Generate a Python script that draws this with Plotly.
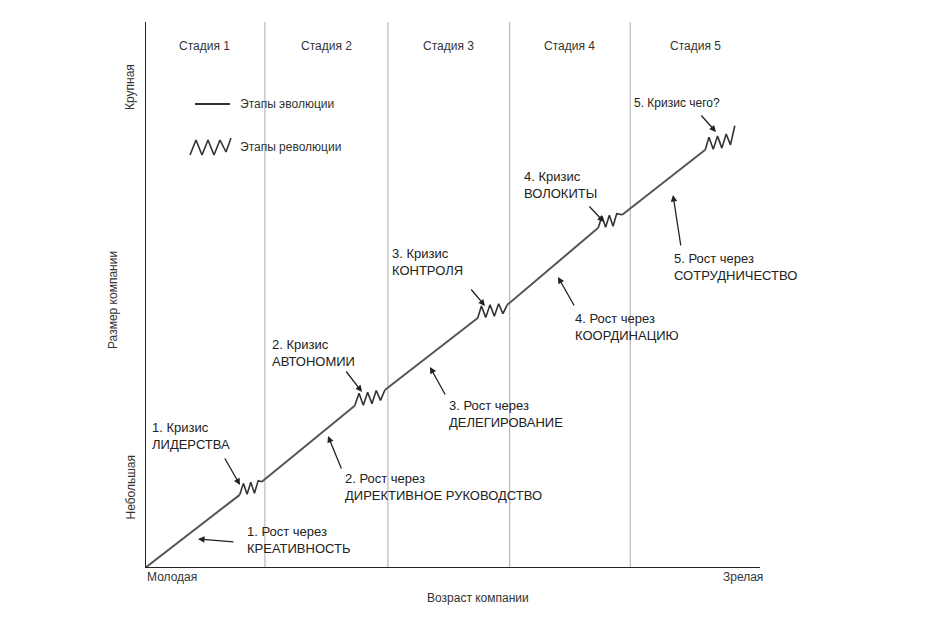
import plotly.graph_objects as go

# ---- data (axis units 0..100) ----
stages = ["Стадия 1", "Стадия 2", "Стадия 3", "Стадия 4", "Стадия 5"]
stage_bounds = [0, 19.5, 39.5, 59.3, 78.9, 100]
# evolution segments: start/end points
evo_x = [0, 15.4, 19.0, 34.1, 39.0, 54.1, 58.9, 73.7, 77.6, 91.1]
evo_y = [0, 13.4, 15.8, 29.7, 32.6, 45.8, 48.2, 62.3, 64.7, 76.6]
# revolution zigzags (hand-read vertices)
rev1_x = [15.4, 16.0, 16.6, 17.2, 17.8, 18.4, 19.0]
rev1_y = [13.4, 15.5, 13.5, 15.7, 13.7, 16.0, 15.8]
rev2_x = [34.1, 34.8, 35.5, 36.2, 36.9, 37.6, 38.3, 39.0]
rev2_y = [29.7, 32.0, 29.8, 32.2, 30.1, 32.5, 30.7, 32.6]
rev3_x = [54.1, 54.7, 55.4, 56.1, 56.8, 57.5, 58.2, 58.9]
rev3_y = [45.8, 48.0, 45.9, 48.2, 46.1, 48.4, 46.6, 48.2]
rev4_x = [73.7, 74.3, 74.9, 75.5, 76.1, 76.7, 77.6]
rev4_y = [62.3, 64.4, 62.4, 64.6, 62.6, 64.9, 64.7]
rev5_x = [91.1, 91.7, 92.4, 93.1, 93.8, 94.5, 95.2, 95.9]
rev5_y = [76.6, 78.9, 76.7, 79.1, 76.9, 79.5, 77.5, 81.0]
crisis_labels = ["1. Кризис<br>ЛИДЕРСТВА", "2. Кризис<br>АВТОНОМИИ", "3. Кризис<br>КОНТРОЛЯ",
                 "4. Кризис<br>ВОЛОКИТЫ", "5. Кризис чего?"]
growth_labels = ["1. Рост через<br>КРЕАТИВНОСТЬ", "2. Рост через<br>ДИРЕКТИВНОЕ РУКОВОДСТВО",
                 "3. Рост через<br>ДЕЛЕГИРОВАНИЕ", "4. Рост через<br>КООРДИНАЦИЮ",
                 "5. Рост через<br>СОТРУДНИЧЕСТВО"]

W, H = 950, 626
L, R, T, B = 145, 760, 22, 568
OFF = 8  # page body margin
def X(px): return (px - L) / (R - L) * 100
def Y(py): return (B - py) / (B - T) * 100

FONT = "Liberation Sans, Arial"
line_col = "#555"
fig = go.Figure()

for i in range(0, len(evo_x), 2):
    fig.add_trace(go.Scatter(x=evo_x[i:i+2], y=evo_y[i:i+2], mode="lines",
                             line=dict(color=line_col, width=2), showlegend=False))
for rx, ry in [(rev1_x, rev1_y), (rev2_x, rev2_y), (rev3_x, rev3_y), (rev4_x, rev4_y), (rev5_x, rev5_y)]:
    fig.add_trace(go.Scatter(x=rx, y=ry, mode="lines", line=dict(color="#333", width=1.6),
                             showlegend=False))

for b in stage_bounds[1:-1]:
    fig.add_shape(type="line", x0=b, x1=b, y0=0, y1=100, xref="x", yref="y",
                  line=dict(color="#aaa", width=1), layer="below")
for i, s in enumerate(stages):
    fig.add_annotation(x=(stage_bounds[i] + stage_bounds[i+1]) / 2, y=Y(46), text=s,
                       showarrow=False, font=dict(size=12, color="#333", family=FONT))

fig.add_shape(type="line", x0=X(195), x1=X(230), y0=Y(104), y1=Y(104), line=dict(color="#333", width=1.8))
fig.add_annotation(x=X(238), y=Y(104), text="Этапы эволюции", xanchor="left", showarrow=False,
                   font=dict(size=12, color="#333", family=FONT))
fig.add_trace(go.Scatter(x=[X(p) for p in [190, 196, 202, 208, 214, 220, 226, 231]],
                         y=[Y(p) for p in [155, 140, 155, 140, 155, 140, 152, 138]],
                         mode="lines", line=dict(color="#333", width=1.6), showlegend=False))
fig.add_annotation(x=X(238), y=Y(147), text="Этапы революции", xanchor="left", showarrow=False,
                   font=dict(size=12, color="#333", family=FONT))

def label(px, py, text, size=13):
    fig.add_annotation(x=X(px), y=Y(py), text=text, xanchor="left", yanchor="middle", align="left",
                       showarrow=False, font=dict(size=size, color="#222", family=FONT))

def arrow(tx, ty, hx, hy):
    fig.add_annotation(x=X(hx), y=Y(hy), ax=X(tx), ay=Y(ty), axref="x", ayref="y", text="",
                       showarrow=True, arrowhead=2, arrowsize=1, arrowwidth=1.3, arrowcolor="#222")

crisis_pos = [(150, 436), (270, 353), (390, 262), (522, 185)]
for (px, py), t in zip(crisis_pos, crisis_labels[:4]):
    label(px, py, t)
label(632, 103, crisis_labels[4], 12)
arrow(224, 457, 240, 485)
arrow(345, 370, 362, 392)
arrow(470, 288, 485, 306)
arrow(588, 205, 604, 222)
arrow(700, 114, 716, 132)

growth_pos = [(245, 540), (343, 487), (447, 414), (573, 327), (672, 267)]
for (px, py), t in zip(growth_pos, growth_labels):
    label(px, py, t)
arrow(235, 542, 198, 539)
arrow(342, 470, 328, 436)
arrow(446, 396, 430, 367)
arrow(575, 307, 558, 277)
arrow(681, 247, 673, 195)

ax_font = dict(size=12, color="#333", family=FONT)
def outer(px, py, text, **kw):
    fig.add_annotation(x=X(px) / 100, y=Y(py) / 100, xref="paper", yref="paper", text=text,
                       showarrow=False, font=ax_font, **kw)
outer(145, 586, "Молодая", xanchor="left")
outer(765, 586, "Зрелая", xanchor="right")
outer(478, 607, "Возраст компании")
outer(121, 62, "Крупная", textangle=-90)
outer(121, 522, "Небольшая", textangle=-90)
outer(104, 300, "Размер компании", textangle=-90)

fig.update_xaxes(range=[0, 100], visible=False, fixedrange=True)
fig.update_yaxes(range=[0, 100], visible=False, fixedrange=True)
fig.add_shape(type="line", x0=0, x1=100, y0=0, y1=0, line=dict(color="#222", width=2))
fig.add_shape(type="line", x0=0, x1=0, y0=0, y1=100, line=dict(color="#222", width=2))
fig.update_layout(width=W, height=H,
                  margin=dict(l=L - OFF, r=W - R + OFF, t=T - OFF, b=H - B + OFF),
                  plot_bgcolor="white", paper_bgcolor="white", showlegend=False)
fig.write_html("out.html")
